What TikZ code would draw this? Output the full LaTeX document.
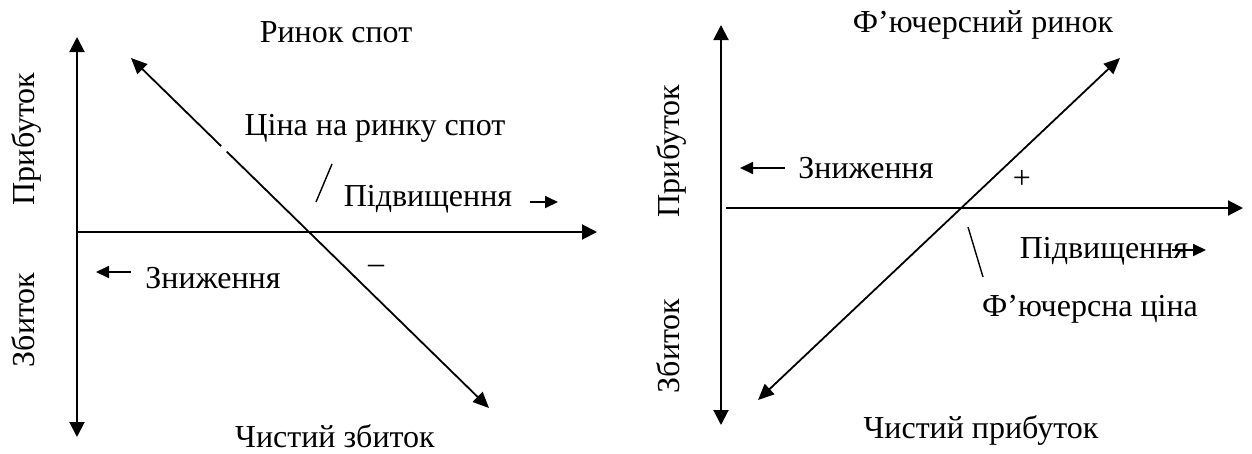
\documentclass[tikz,border=0pt]{standalone}
\usepackage{fontspec}
\setmainfont{Liberation Serif}
\usetikzlibrary{arrows.meta,calc}
\tikzset{
  axis/.style={line width=2pt, -{Triangle[length=15pt,width=15pt]}},
  biaxis/.style={line width=2pt, {Triangle[length=15pt,width=15pt]}-{Triangle[length=15pt,width=15pt]}},
  priceline/.style={line width=1.8pt, {Triangle[length=16pt,width=14pt]}-{Triangle[length=16pt,width=14pt]}},
  hint/.style={line width=1.8pt, -{Triangle[length=13pt,width=12pt]}},
  pointer/.style={line width=1.4pt},
  lbl/.style={font=\fontsize{32}{38}\selectfont, inner sep=0pt, anchor=base},
  vlbl/.style={lbl, rotate=90}
}
\begin{document}
\begin{tikzpicture}[x=1pt, y=-1pt]
\useasboundingbox (0,0) rectangle (1252,453);

% ---------- spot market ----------
\coordinate (sTop)   at (77,37);
\coordinate (sBot)   at (77,437);
\coordinate (sO)     at (77,232);
\coordinate (sRight) at (597,232);
\coordinate (sA)     at (131,58);
\coordinate (sB)     at (489,408);

\draw[biaxis] (sBot) -- (sTop);
\draw[axis] (sO) -- (sRight);
\draw[priceline] (sA) -- (sB);
% break in the price line under the caption
\draw[white, line width=4pt] ($(sA)!0.252!(sB)$) -- ($(sA)!0.267!(sB)$);

\node[lbl] (sTitle) at (336,42) {Ринок спот};
\node[lbl] (sPrice) at (375,135) {Ціна на ринку спот};
\coordinate (sPtrA) at (332,164);
\coordinate (sPtrB) at (316,202);
\draw[pointer] (sPtrA) -- (sPtrB);

\node[lbl] (sUp) at (428,206) {Підвищення};
\coordinate (sUpA) at (530,202);
\coordinate (sUpB) at (558,202);
\draw[hint] (sUpA) -- (sUpB);

\node[lbl] (sDown) at (213,288) {Зниження};
\coordinate (sDnA) at (131,272);
\coordinate (sDnB) at (96,272);
\draw[hint] (sDnA) -- (sDnB);

\node[lbl] (sMinus) at (376,273) {–};
\node[vlbl] (sProfit) at (34,139) {Прибуток};
\node[vlbl] (sLoss) at (34,320) {Збиток};
\node[lbl] (sNet) at (335,447) {Чистий збиток};

% ---------- futures market ----------
\coordinate (fTop)   at (721,25);
\coordinate (fBot)   at (721,425);
\coordinate (fO)     at (726,208);
\coordinate (fRight) at (1243,208);
\coordinate (fA)     at (758,400);
\coordinate (fB)     at (1120,58);

\draw[biaxis] (fBot) -- (fTop);
\draw[axis] (fO) -- (fRight);
\draw[priceline] (fA) -- (fB);

\node[lbl] (fTitle) at (983,32) {Ф’ючерсний ринок};

\node[lbl] (fDown) at (866,178) {Зниження};
\coordinate (fDnA) at (785,168);
\coordinate (fDnB) at (740,168);
\draw[hint] (fDnA) -- (fDnB);

\node[lbl] (fPlus) at (1022,188) {+};

\node[lbl] (fUp) at (1104,258) {Підвищення};
\coordinate (fUpA) at (1172,250);
\coordinate (fUpB) at (1206,250);
\draw[hint] (fUpA) -- (fUpB);

\coordinate (fPtrA) at (968,227);
\coordinate (fPtrB) at (983,277);
\draw[pointer] (fPtrA) -- (fPtrB);
\node[lbl] (fPrice) at (1090,316) {Ф’ючерсна ціна};

\node[vlbl] (fProfit) at (679,151) {Прибуток};
\node[vlbl] (fLoss) at (679,346) {Збиток};
\node[lbl] (fNet) at (981,438) {Чистий прибуток};
\end{tikzpicture}
\end{document}
